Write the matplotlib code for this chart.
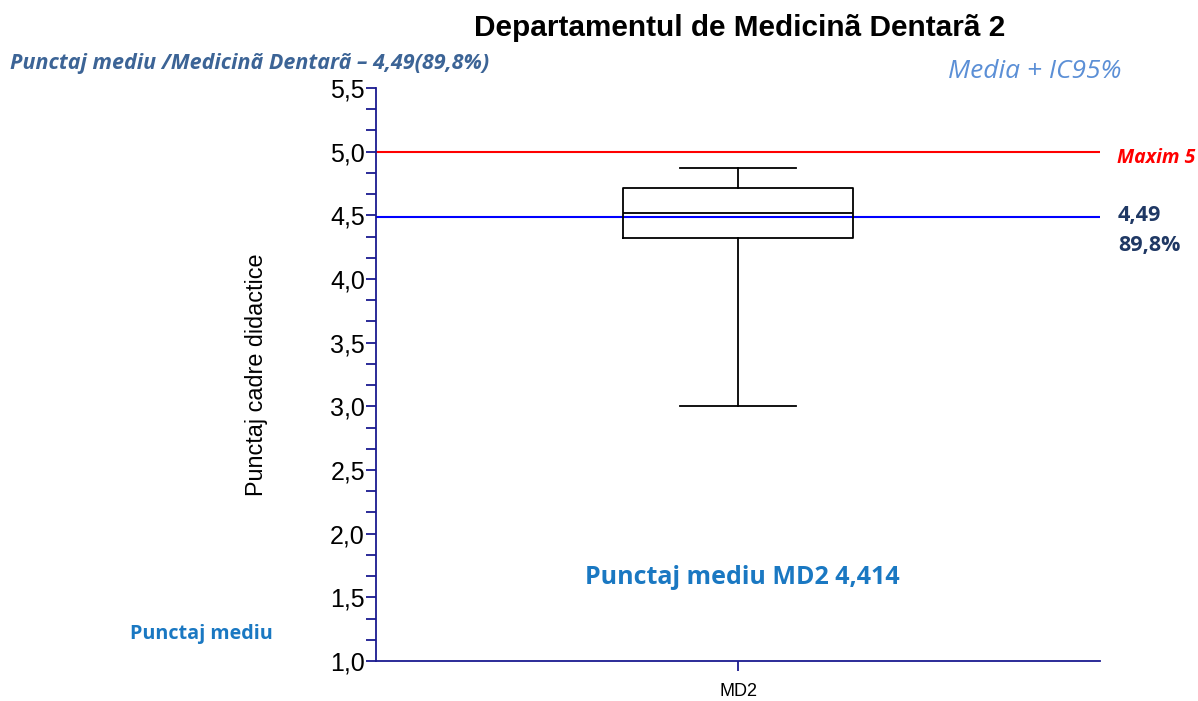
import numpy as np
import matplotlib.pyplot as plt
from matplotlib.ticker import MultipleLocator

# date
categorii = ['MD2']
whis_jos = [3.0]
q1 = [4.32]
mediana = [4.52]
q3 = [4.714]
whis_sus = [4.87]
medie_dept = 4.49
maxim = 5.0
yticks = [1.0, 1.5, 2.0, 2.5, 3.0, 3.5, 4.0, 4.5, 5.0, 5.5]

W, H = 1198, 701
fig = plt.figure(figsize=(W/100, H/100), dpi=100)
ax = fig.add_axes([376/W, (H-661)/H, (1100-376)/W, (661-88)/H])

stats = []
for i, c in enumerate(categorii):
    stats.append(dict(label=c, whislo=whis_jos[i], q1=q1[i], med=mediana[i],
                      q3=q3[i], whishi=whis_sus[i], fliers=[]))
ax.bxp(stats, positions=[1], widths=0.318, showfliers=False,
       boxprops=dict(color='black', linewidth=1.3),
       medianprops=dict(color='black', linewidth=1.3),
       whiskerprops=dict(color='black', linewidth=1.3),
       capprops=dict(color='black', linewidth=1.3))

ax.axhline(maxim, color='#ff0000', lw=1.5, zorder=0)
ax.axhline(medie_dept, color='#0000ff', lw=1.5, zorder=0)

ax.set_xlim(0.5, 1.5)
ax.set_ylim(1.0, 5.5)
ax.set_yticks(yticks)
ax.set_yticklabels([f'{v:.1f}'.replace('.', ',') for v in yticks],
                   fontsize=18, family='Liberation Sans')
ax.yaxis.set_minor_locator(MultipleLocator(0.5/3))
ax.set_xticks([1])
ax.set_xticklabels(categorii, fontsize=13, family='Liberation Sans')

nav = '#1a1a90'
for s in ['top', 'right']:
    ax.spines[s].set_visible(False)
for s in ['left', 'bottom']:
    ax.spines[s].set_color(nav)
    ax.spines[s].set_linewidth(1.3)
ax.tick_params(axis='y', which='both', color=nav, width=1.3, length=7, pad=1)
ax.tick_params(axis='x', color=nav, width=1.3, length=7, pad=9)

ax.set_ylabel('Punctaj cadre didactice', fontsize=16.8, family='Liberation Sans', labelpad=0)
ax.yaxis.set_label_coords((268 - 376) / (1100 - 376), 0.5)

fig.text(740/W, 1-28/H, 'Departamentul de Medicinã Dentarã 2', ha='center', va='center',
         fontsize=21.4, fontweight='bold', family='Liberation Sans')
fig.text(10/W, 1-63/H, 'Punctaj mediu /Medicinã Dentarã – 4,49(89,8%)', ha='left', va='center',
         fontsize=15.5, fontweight='bold', style='italic', color='#3c6496', family='Open Sans')
fig.text(948/W, 1-72/H, 'Media + IC95%', ha='left', va='center',
         fontsize=19, style='italic', color='#5b8fd6', family='Open Sans')
fig.text(1117/W, 1-158/H, 'Maxim 5', ha='left', va='center',
         fontsize=14, fontweight='bold', style='italic', color='#ff0000', family='Open Sans')
fig.text(1118/W, 1-215/H, '4,49', ha='left', va='center',
         fontsize=15.5, fontweight='bold', color='#1f3864', family='Open Sans')
fig.text(1118/W, 1-245/H, '89,8%', ha='left', va='center',
         fontsize=15.5, fontweight='bold', color='#1f3864', family='Open Sans')
fig.text(742/W, 1-578/H, 'Punctaj mediu MD2 4,414', ha='center', va='center',
         fontsize=18, fontweight='bold', color='#1a78c2', family='Open Sans')
fig.text(130/W, 1-634/H, 'Punctaj mediu', ha='left', va='center',
         fontsize=14.2, fontweight='bold', color='#1a78c2', family='Open Sans')

fig.savefig('out.png', dpi=100)
